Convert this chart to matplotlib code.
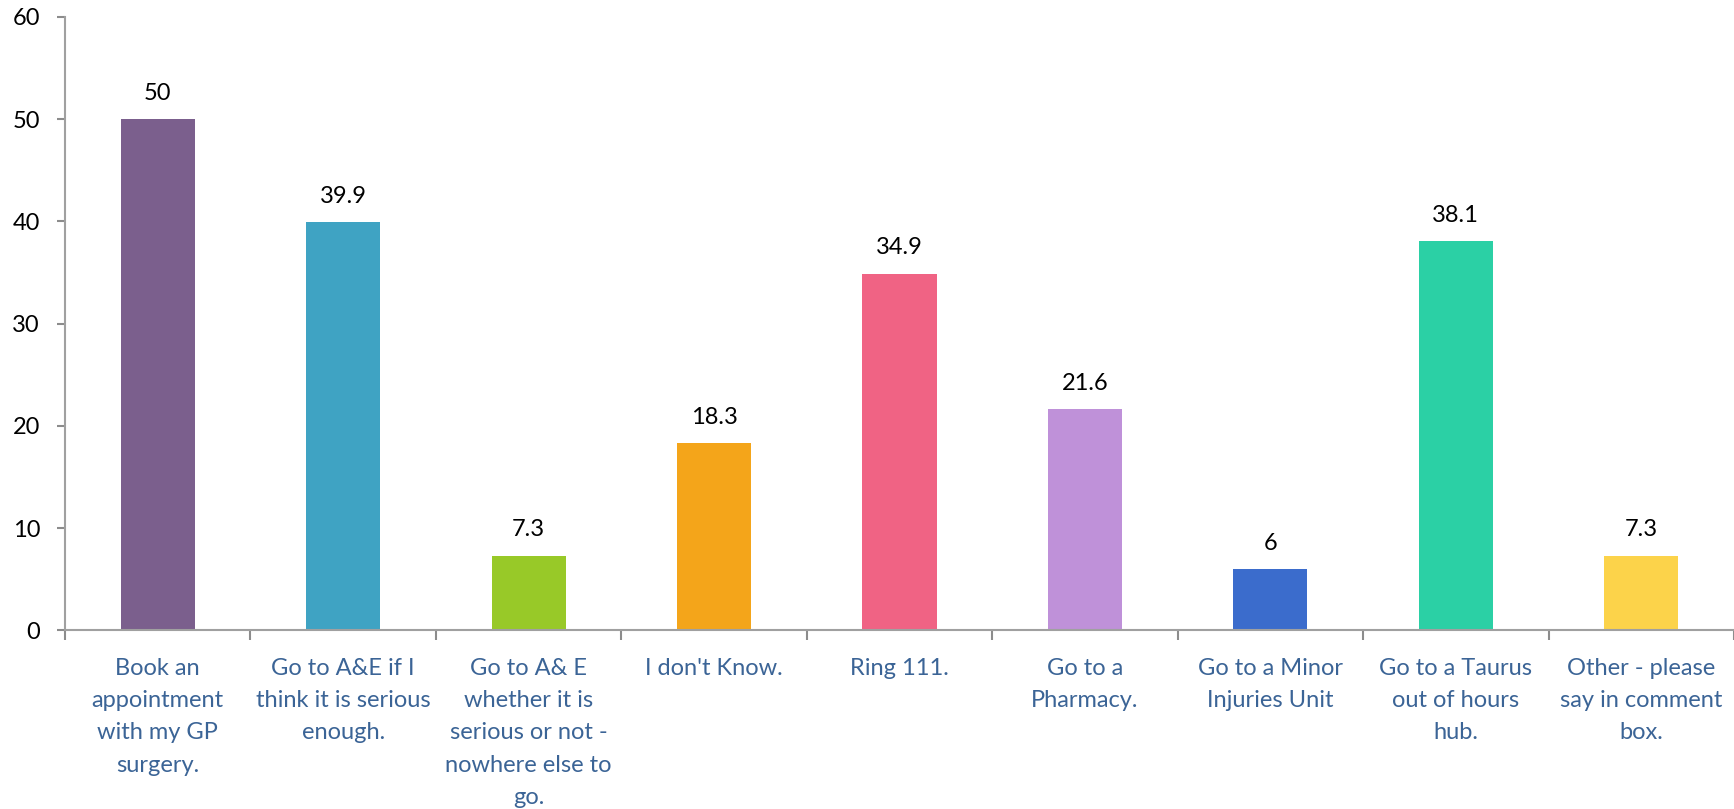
import matplotlib.pyplot as plt

categories = [
    "Book an\nappointment\nwith my GP\nsurgery.",
    "Go to A&E if I\nthink it is serious\nenough.",
    "Go to A& E\nwhether it is\nserious or not -\nnowhere else to\ngo.",
    "I don't Know.",
    "Ring 111.",
    "Go to a\nPharmacy.",
    "Go to a Minor\nInjuries Unit",
    "Go to a Taurus\nout of hours\nhub.",
    "Other - please\nsay in comment\nbox.",
]
values = [50, 39.9, 7.3, 18.3, 34.9, 21.6, 6, 38.1, 7.3]
value_labels = ["50", "39.9", "7.3", "18.3", "34.9", "21.6", "6", "38.1", "7.3"]
colors = ["#7B5F8D", "#3FA3C3", "#98C928", "#F4A51A", "#F06384",
          "#BF91D9", "#3B6CCC", "#2BD0A5", "#FCD34A"]

plt.rcParams['font.family'] = ['Lato', 'DejaVu Sans']

fig = plt.figure(figsize=(17.34, 8.09), dpi=100)
ax = fig.add_axes([0.0375, 0.221, 0.9625, 0.758])

x = range(len(values))
ax.bar(x, values, width=0.4, color=colors, zorder=2)
for i, (v, lb) in enumerate(zip(values, value_labels)):
    ax.annotate(lb, (i, v), xytext=(0, 11), textcoords='offset points',
                ha='center', va='bottom', fontsize=17, color='black')

ax.set_xlim(-0.5, len(values) - 0.5)
ax.set_ylim(0, 60)
ax.set_yticks(range(0, 61, 10))
ax.tick_params(axis='y', labelsize=17, colors='#8C8C8C', labelcolor='black',
               length=6, width=1.5, pad=12)

# category ticks sit on the boundaries between bars
ax.set_xticks([i - 0.5 for i in range(len(values) + 1)])
ax.set_xticklabels([])
ax.tick_params(axis='x', colors='#8C8C8C', length=7, width=1.5)
for i, c in enumerate(categories):
    ax.annotate(c, (i, 0), xytext=(0, -20), textcoords='offset points',
                ha='center', va='top', fontsize=17, color='#3B6496',
                linespacing=1.66, annotation_clip=False)

for side in ['top', 'right']:
    ax.spines[side].set_visible(False)
for side in ['left', 'bottom']:
    ax.spines[side].set_color('#A0A0A0')
    ax.spines[side].set_linewidth(1.5)

fig.savefig('out.png', dpi=100)
